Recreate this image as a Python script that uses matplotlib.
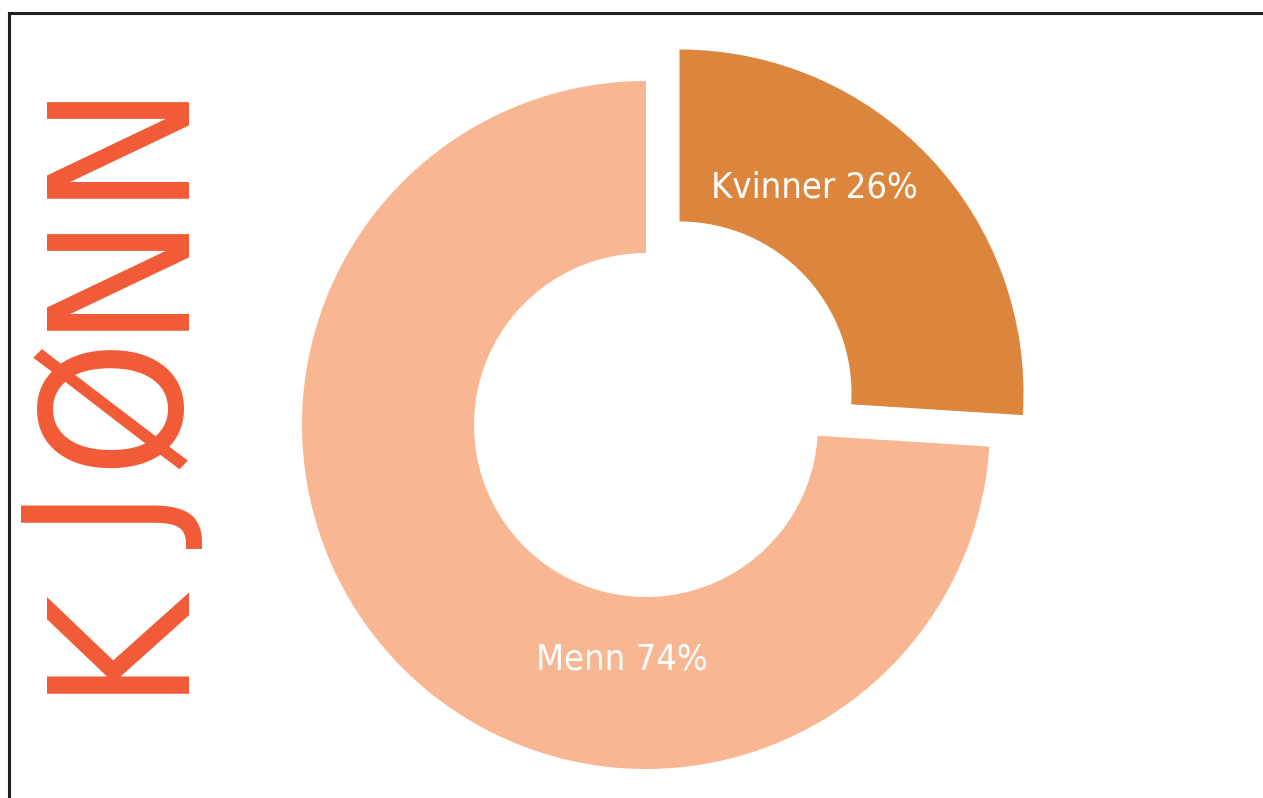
import matplotlib.pyplot as plt
from matplotlib.lines import Line2D

## Share of men and women
labels = ['Kvinner', 'Menn']
values = [26, 74]
colors = ['#DC853D', '#F8B692']
title_letters = ['K', 'J', 'Ø', 'N', 'N']

W, H = 1263, 798
fig = plt.figure(figsize=(W / 100, H / 100), dpi=100)
ax = fig.add_axes([0, 0, 1, 1])

# donut, pixel-sized so the axes can use pixel limits
cx, cy, r = 646, H - 425, 344
wedges, _ = ax.pie(values, colors=colors, startangle=90, counterclock=False,
                   explode=[46, 0], radius=r, center=(cx, cy),
                   wedgeprops=dict(width=172, linewidth=0))
ax.set_xlim(0, W)
ax.set_ylim(0, H)
ax.set_aspect('equal')
ax.axis('off')

# labels inside the slices
label_pos = [(814, H - 187), (622, H - 660)]
for lab, val, (x, y) in zip(labels, values, label_pos):
    ax.text(x, y, f'{lab} {val}%', color='white', fontsize=26,
            ha='center', va='center', family='DejaVu Sans', fontstretch='condensed')

# rotated title, letter by letter to get the wide spacing
letter_y = [636, 522, 400, 264, 133]
for ch, y in zip(title_letters, letter_y):
    ax.text(119, H - y, ch, color='#F15A36', fontsize=140, rotation=90,
            ha='center', va='center', family='DejaVu Sans', fontstretch='condensed')

# frame (top and left)
fig.add_artist(Line2D([9 / W, 1], [1 - 13 / H, 1 - 13 / H], color='#231F20', lw=2.2,
                      transform=fig.transFigure))
fig.add_artist(Line2D([9 / W, 9 / W], [0, 1 - 13 / H], color='#231F20', lw=2.2,
                      transform=fig.transFigure))

fig.savefig('out.png', dpi=100)
